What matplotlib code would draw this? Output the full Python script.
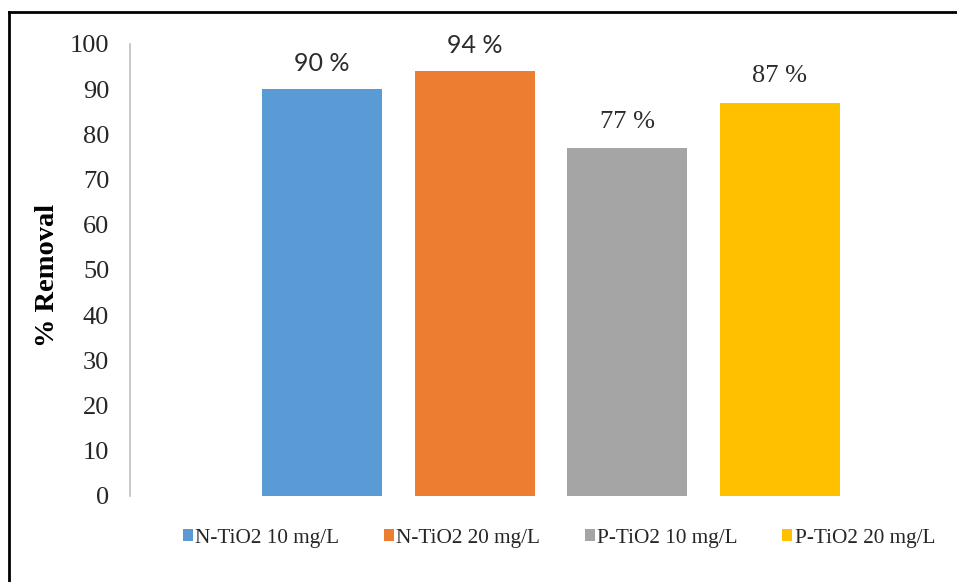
import matplotlib
matplotlib.use("Agg")
import matplotlib.pyplot as plt
from matplotlib.patches import Patch
from matplotlib.lines import Line2D

series = ["N-TiO2 10 mg/L", "N-TiO2 20 mg/L", "P-TiO2 10 mg/L", "P-TiO2 20 mg/L"]
removal = [90, 94, 77, 87]
colors = ["#5B9BD5", "#ED7D31", "#A5A5A5", "#FFC000"]
yticks = [0, 10, 20, 30, 40, 50, 60, 70, 80, 90, 100]

SERIF = ["Liberation Serif", "DejaVu Serif"]
SANS = ["Lato", "DejaVu Sans"]
plt.rcParams["font.family"] = SERIF

W, H = 957, 582
fig = plt.figure(figsize=(W / 100, H / 100), dpi=100)

# axes placed in pixel terms
left_px, right_px, top_px, bottom_px = 130, 940, 44, 496
ax = fig.add_axes([left_px / W, 1 - bottom_px / H,
                   (right_px - left_px) / W, (bottom_px - top_px) / H])

step = 152.5
first_center = 322
x = list(range(len(series)))
ax.bar(x, removal, width=120 / step, color=colors, zorder=2)
ax.set_xlim((left_px - first_center) / step, (right_px - first_center) / step)
ax.set_ylim(0, 100)

# data labels: N-TiO2 in a sans face, P-TiO2 in the serif face
label_fonts = [SANS, SANS, SERIF, SERIF]
label_sizes = [18, 18, 19, 19]
label_offsets = [10, 10, 11, 11]
for xi, v, fam, fs, off in zip(x, removal, label_fonts, label_sizes, label_offsets):
    ax.annotate(f"{v} %", (xi, v), xytext=(0, off), textcoords="offset points",
                ha="center", va="bottom", fontsize=fs, family=fam, color="#2b2b2b")

ax.set_yticks(yticks)
ax.tick_params(axis="y", length=0, pad=15, labelsize=19, labelcolor="#262626")
ax.set_xticks([])
for s in ["top", "right", "bottom"]:
    ax.spines[s].set_visible(False)
ax.spines["left"].set_color("#BFBFBF")
ax.spines["left"].set_linewidth(1.2)

ax.set_ylabel("% Removal", fontsize=20.5, fontweight="bold", color="#000000")
ax.yaxis.set_label_coords((47 - left_px) / (right_px - left_px),
                          (bottom_px - 275) / (bottom_px - top_px))
ax.yaxis.label.set_va("center")

handles = [Patch(facecolor=c, edgecolor="none", label=s) for c, s in zip(colors, series)]
fig.legend(handles=handles, loc="center", bbox_to_anchor=(559 / W, 1 - 538 / H),
           ncol=4, frameon=False, fontsize=15.3, handlelength=0.47, handleheight=0.47,
           handletextpad=0.12, columnspacing=2.1, labelcolor="#262626",
           borderaxespad=0, borderpad=0)

# outer frame (top and left edges)
fig.add_artist(Line2D([9 / W, 1], [1 - 12 / H, 1 - 12 / H], color="black", lw=2,
                      transform=fig.transFigure))
fig.add_artist(Line2D([9 / W, 9 / W], [0, 1 - 12 / H], color="black", lw=2,
                      transform=fig.transFigure))

fig.savefig("out.png", dpi=100)
